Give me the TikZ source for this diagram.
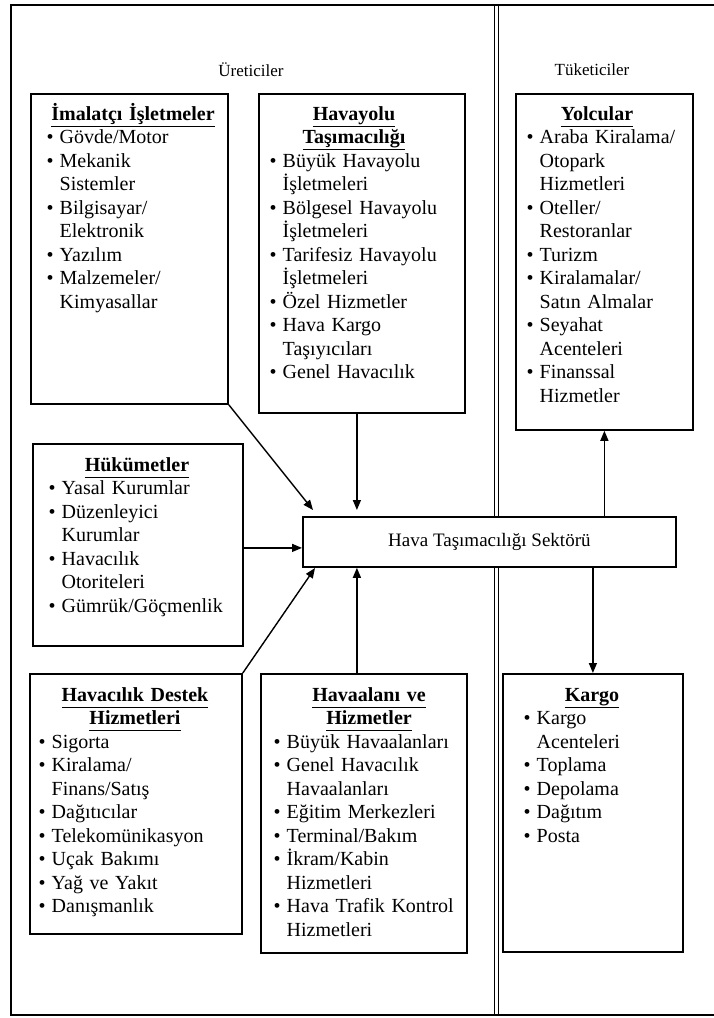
\documentclass[tikz,border=0pt]{standalone}
\usepackage{fontspec}
\setmainfont{Liberation Serif}
\usetikzlibrary{arrows.meta,calc}
\newcommand{\bul}{\hangindent=13pt\hangafter=1\noindent\makebox[13pt][l]{\textbullet}}
\newcommand{\nb}{\par\bul}
\newcommand{\tul}[1]{\underline{#1\vphantom{gy}}}
\begin{document}
\begin{tikzpicture}[x=1pt,y=-1pt,
  box/.style={draw,line width=1.8pt,fill=white,inner sep=0pt,anchor=north west},
  arr/.style={line width=1.4pt,-{Triangle[length=10pt,width=8pt]}},
  ttl/.style={anchor=base,text width=230pt,align=center,inner sep=0pt,font=\fontsize{20}{23.5}\selectfont\bfseries},
  itm/.style={anchor=base west,text width=220pt,inner sep=0pt,font=\fontsize{20}{23.5}\selectfont},
  hdr/.style={font=\fontsize{17}{20}\selectfont,inner sep=0pt},
  frm/.style={line width=1.4pt},
  dvd/.style={line width=0.9pt}]
\useasboundingbox (0,0) rectangle (714,1018);
% frame and divider
\draw[frm] (714,5) -- (11,5) -- (11,1015) -- (714,1015);
\draw[dvd] (494,5) -- (494,1015);
\draw[dvd] (498.5,5) -- (498.5,1015);
% headers
\node[hdr] (ure) at (251,70) {Üreticiler};
\node[hdr] (tuk) at (592,70) {Tüketiciler};
% boxes
\node[box,minimum width=197pt,minimum height=310pt] (imal) at (30,93) {};
\node[box,minimum width=206pt,minimum height=319pt] (hava) at (258,93) {};
\node[box,minimum width=177pt,minimum height=336pt] (yolcu) at (515,93) {};
\node[box,minimum width=210pt,minimum height=202pt] (hukum) at (32,443) {};
\node[box,minimum width=373pt,minimum height=50pt,font=\fontsize{19}{22}\selectfont] (sektor) at (302,516) {Hava Taşımacılığı Sektörü};
\node[box,minimum width=212pt,minimum height=260pt] (destek) at (29,673) {};
\node[box,minimum width=206pt,minimum height=279pt] (alan) at (260,673) {};
\node[box,minimum width=180pt,minimum height=278pt] (kargo) at (502,673) {};
% titles
\node[ttl] (t1) at (133,120) {\tul{İmalatçı İşletmeler}};
\node[ttl] (t2) at (354,120) {\tul{Havayolu}\\\tul{Taşımacılığı}};
\node[ttl] (t3) at (597,120) {\tul{Yolcular}};
\node[ttl] (t4) at (137,471) {\tul{Hükümetler}};
\node[ttl] (t5) at (135,701) {\tul{Havacılık Destek}\\\tul{Hizmetleri}};
\node[ttl] (t6) at (369,701) {\tul{Havaalanı ve}\\\tul{Hizmetler}};
\node[ttl] (t7) at (592,701) {\tul{Kargo}};
% items
\node[itm] (i1) at (46.5,143.5) {\bul Gövde/Motor\nb Mekanik\newline Sistemler\nb Bilgisayar/\newline Elektronik\nb Yazılım\nb Malzemeler/\newline Kimyasallar\par};
\node[itm] (i2) at (269.5,167) {\bul Büyük Havayolu\newline İşletmeleri\nb Bölgesel Havayolu\newline İşletmeleri\nb Tarifesiz Havayolu\newline İşletmeleri\nb Özel Hizmetler\nb Hava Kargo\newline Taşıyıcıları\nb Genel Havacılık\par};
\node[itm] (i3) at (526.5,143.5) {\bul Araba Kiralama/\newline Otopark\newline Hizmetleri\nb Oteller/\newline Restoranlar\nb Turizm\nb Kiralamalar/\newline Satın Almalar\nb Seyahat\newline Acenteleri\nb Finanssal\newline Hizmetler\par};
\node[itm] (i4) at (48.5,494.5) {\bul Yasal Kurumlar\nb Düzenleyici\newline Kurumlar\nb Havacılık\newline Otoriteleri\nb Gümrük/Göçmenlik\par};
\node[itm] (i5) at (38.5,748) {\bul Sigorta\nb Kiralama/\newline Finans/Satış\nb Dağıtıcılar\nb Telekomünikasyon\nb Uçak Bakımı\nb Yağ ve Yakıt\nb Danışmanlık\par};
\node[itm] (i6) at (273.5,748) {\bul Büyük Havaalanları\nb Genel Havacılık\newline Havaalanları\nb Eğitim Merkezleri\nb Terminal/Bakım\nb İkram/Kabin\newline Hizmetleri\nb Hava Trafik Kontrol\newline Hizmetleri\par};
\node[itm] (i7) at (523.5,724.5) {\bul Kargo\newline Acenteleri\nb Toplama\nb Depolama\nb Dağıtım\nb Posta\par};
% connectors
\coordinate (a1) at (313,510);
\draw[arr] (imal.south east) -- (a1);
\coordinate (hv) at ($(hava.south)+(-5,0)$);
\draw[arr,shorten >=6pt] (hv) -- (hv |- sektor.north);
\coordinate (hk) at ($(hukum.east)+(0,3)$);
\draw[arr] (hk) -- (hk -| sektor.west);
\coordinate (a2) at (315,568);
\draw[arr] (destek.north east) -- (a2);
\coordinate (al) at ($(alan.north)+(-7,0)$);
\draw[arr] (al) -- (al |- sektor.south);
\draw[arr] (sektor.north -| yolcu.south) -- (yolcu.south);
\draw[arr] (sektor.south -| kargo.north) -- (kargo.north);
\end{tikzpicture}
\end{document}
